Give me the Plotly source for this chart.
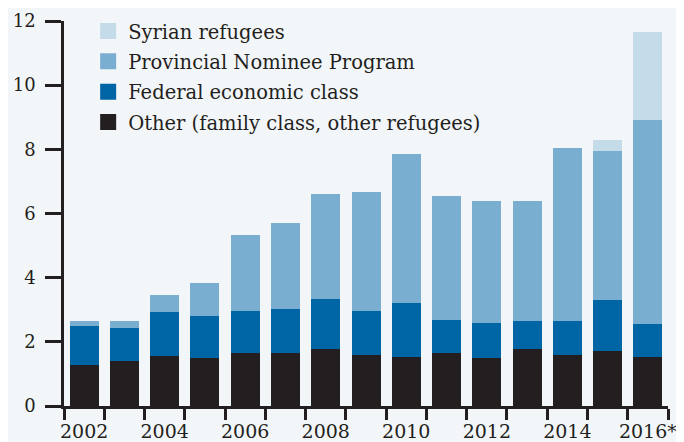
import plotly.graph_objects as go

years = ["2002", "2003", "2004", "2005", "2006", "2007", "2008", "2009",
         "2010", "2011", "2012", "2013", "2014", "2015", "2016*"]
tick_text = ["2002", "", "2004", "", "2006", "", "2008", "",
             "2010", "", "2012", "", "2014", "", "2016*"]

other = [1.28, 1.40, 1.56, 1.50, 1.65, 1.65, 1.78, 1.59, 1.53, 1.65, 1.50, 1.78, 1.59, 1.71, 1.53]
federal = [1.21, 1.03, 1.37, 1.30, 1.31, 1.37, 1.55, 1.37, 1.68, 1.03, 1.09, 0.87, 1.06, 1.59, 1.02]
pnp = [0.16, 0.22, 0.53, 1.03, 2.37, 2.68, 3.27, 3.71, 4.64, 3.86, 3.80, 3.74, 5.39, 4.64, 6.36]
syrian = [0, 0, 0, 0, 0, 0, 0, 0, 0, 0, 0, 0, 0, 0.35, 2.74]

series = [
    ("Other (family class, other refugees)", other, "#231f20", 4),
    ("Federal economic class", federal, "#0065a4", 3),
    ("Provincial Nominee Program", pnp, "#7aaed0", 2),
    ("Syrian refugees", syrian, "#c4dbe9", 1),
]

BG = "#f3f6f9"
INK = "#231f20"
FONT = "DejaVu Serif"

fig = go.Figure()
for name, vals, color, rank in series:
    fig.add_trace(go.Bar(x=years, y=vals, name=name, showlegend=False,
                         marker=dict(color=color, line=dict(width=0))))
for name, vals, color, rank in series:
    fig.add_trace(go.Scatter(x=[None], y=[None], mode="markers", name=name,
                             legendrank=rank, legendgroup=name,
                             marker=dict(symbol="square", size=17, color=color,
                                         line=dict(width=0))))

fig.update_layout(
    width=684, height=442,
    barmode="stack", bargap=0.28,
    paper_bgcolor=BG, plot_bgcolor=BG,
    font=dict(family=FONT, size=18, color=INK),
    margin=dict(l=56, r=24, t=13, b=44, autoexpand=False),
    showlegend=True,
    legend=dict(x=0.04, y=1.024, xanchor="left", yanchor="top",
                traceorder="grouped", tracegroupgap=2, itemsizing="trace",
                bgcolor="rgba(0,0,0,0)", font=dict(family=FONT, size=19.5, color=INK)),
    xaxis=dict(type="category", tickmode="array", tickvals=years, ticktext=tick_text,
               tickson="boundaries", ticks="outside", ticklen=11, tickwidth=2.5,
               tickangle=0, automargin=False, tickfont=dict(size=19),
               ticklabelstandoff=6,
               tickcolor=INK, showline=True, linecolor=INK, linewidth=2.5,
               showgrid=False, zeroline=False, range=[-0.5, 14.5]),
    yaxis=dict(range=[0, 12], tickvals=[0, 2, 4, 6, 8, 10, 12], ticks="outside",
               ticklen=16, tickwidth=2.5, tickcolor=INK, showline=True, linecolor=INK,
               linewidth=2.5, showgrid=False, zeroline=False, automargin=False,
               ticklabelstandoff=6),
)

fig.write_html("out.html")
